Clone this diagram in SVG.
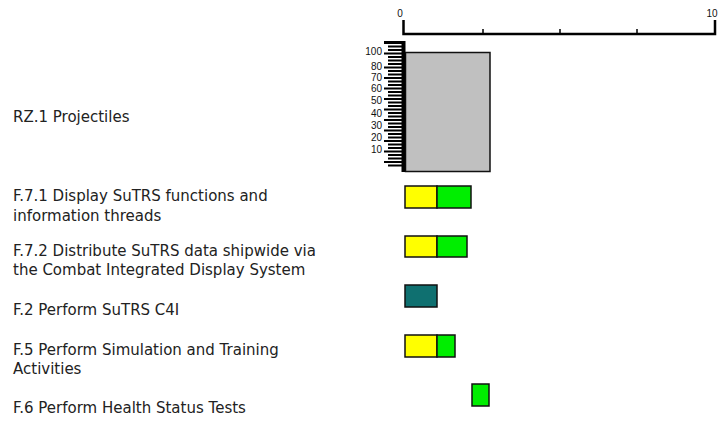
<svg xmlns="http://www.w3.org/2000/svg" width="719" height="423" viewBox="0 0 719 423">
  <style>
    .lbl { font-family: "DejaVu Sans", Verdana, sans-serif; font-size: 15px; fill: #222; }
    .axn { font-family: "Liberation Sans", Arial, sans-serif; font-size: 10px; fill: #111; }
    .rul { font-family: "Liberation Sans", Arial, sans-serif; font-size: 10px; fill: #111; text-anchor: end; }
    .bar { stroke: #111; stroke-width: 1.5; }
    .yel { fill: #ffff00; }
    .grn { fill: #00ee00; }
    .tea { fill: #0f7070; }
    .gry { fill: #c0c0c0; }
    .tk { stroke: #000; stroke-width: 2; }
  </style>
  <rect width="719" height="423" fill="#ffffff"/>

  <!-- time axis -->
  <g id="axis">
    <text class="axn" x="400" y="17" text-anchor="middle">0</text>
    <text class="axn" x="712" y="17" text-anchor="middle">10</text>
    <path d="M403.5 20 V34 H715 V20" fill="none" stroke="#000" stroke-width="2.5"/>
    <path d="M483 29 V34 M560 29 V34 M637 29 V34" stroke="#000" stroke-width="1.5"/>
  </g>

  <!-- row labels -->
  <g id="labels">
    <text class="lbl" x="13" y="122">RZ.1 Projectiles</text>
    <text class="lbl" x="13" y="201">F.7.1 Display SuTRS functions and</text>
    <text class="lbl" x="13" y="221">information threads</text>
    <text class="lbl" x="13" y="256">F.7.2 Distribute SuTRS data shipwide via</text>
    <text class="lbl" x="13" y="275">the Combat Integrated Display System</text>
    <text class="lbl" x="13" y="315">F.2 Perform SuTRS C4I</text>
    <text class="lbl" x="13" y="355">F.5 Perform Simulation and Training</text>
    <text class="lbl" x="13" y="374">Activities</text>
    <text class="lbl" x="13" y="413">F.6 Perform Health Status Tests</text>
  </g>

  <!-- resource profile with its percentage ruler -->
  <g id="rz1">
    <rect class="bar gry" x="405.5" y="52.5" width="84.5" height="119"/>
    <rect x="401.5" y="41" width="4" height="131" fill="#000"/>
    <rect x="384" y="41" width="20" height="3" fill="#000"/>
    <path class="tk" d="M388 46.5H402 M388 50H402 M384 53.5H402 M388 57H402 M388 60.5H402 M388 64H402 M384 67.5H402 M388 71H402 M388 74.5H402 M384 78H402 M388 81.5H402 M388 85H402 M384 88.5H402 M388 92H402 M388 95.5H402 M384 99H402 M388 102.5H402 M388 106H402 M384 109.5H402 M388 113H402 M388 116.5H402 M384 120H402 M388 123.5H402 M388 127H402 M384 130.5H402 M388 134H402 M388 137.5H402 M384 141H402 M388 144.5H402 M388 148H402 M384 151.5H402 M388 155H402 M388 158.5H402 M384 162H402 M388 165.5H402"/>
    <text class="rul" x="382" y="55">100</text>
    <text class="rul" x="382" y="70">80</text>
    <text class="rul" x="382" y="81">70</text>
    <text class="rul" x="382" y="92">60</text>
    <text class="rul" x="382" y="104">50</text>
    <text class="rul" x="382" y="117">40</text>
    <text class="rul" x="382" y="129">30</text>
    <text class="rul" x="382" y="141">20</text>
    <text class="rul" x="382" y="153">10</text>
  </g>

  <g id="f71">
    <rect class="bar yel" x="405" y="186" width="32" height="22"/>
    <rect class="bar grn" x="437" y="186" width="34" height="22"/>
  </g>
  <g id="f72">
    <rect class="bar yel" x="405" y="236" width="32" height="21"/>
    <rect class="bar grn" x="437" y="236" width="30" height="21"/>
  </g>
  <g id="f2">
    <rect class="bar tea" x="405" y="285" width="32" height="22"/>
  </g>
  <g id="f5">
    <rect class="bar yel" x="405" y="335" width="32" height="22"/>
    <rect class="bar grn" x="437" y="335" width="18" height="22"/>
  </g>
  <g id="f6">
    <rect class="bar grn" x="472" y="384" width="17" height="22"/>
  </g>
</svg>
